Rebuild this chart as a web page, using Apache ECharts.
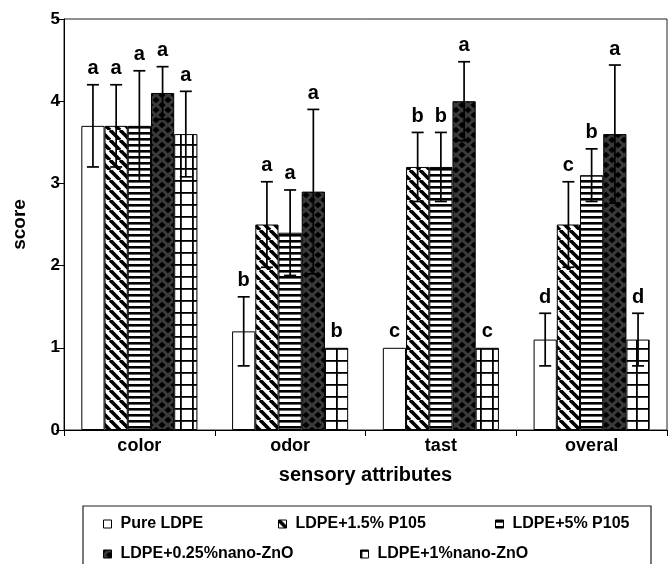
<!DOCTYPE html>
<html>
<head>
<meta charset="utf-8">
<script src="https://cdn.jsdelivr.net/npm/echarts@6/dist/echarts.min.js"></script>
<style>html,body{margin:0;padding:0;background:#fff;}#main{width:672px;height:564px;}</style>
</head>
<body>
<div id="main"></div>
<script>
// ---- data ----
const categories = ['color', 'odor', 'tast', 'overal'];
const seriesNames = ['Pure LDPE', 'LDPE+1.5% P105', 'LDPE+5% P105', 'LDPE+0.25%nano-ZnO', 'LDPE+1%nano-ZnO'];
const pureLDPE   = [3.7, 1.2, 1.0, 1.1];
const p105_15    = [3.7, 2.5, 3.2, 2.5];
const p105_5     = [3.7, 2.4, 3.2, 3.1];
const zno_025    = [4.1, 2.9, 4.0, 3.6];
const zno_1      = [3.6, 1.0, 1.0, 1.1];
const errPure    = [0.5, 0.42, 0, 0.32];
const err15      = [0.5, 0.52, 0.42, 0.52];
const err5       = [0.67, 0.52, 0.42, 0.32];
const err025     = [0.32, 1.0, 0.48, 0.84];
const err1       = [0.52, 0, 0, 0.32];
const lettersPure = ['a', 'b', 'c', 'd'];
const letters15   = ['a', 'a', 'b', 'c'];
const letters5    = ['a', 'a', 'b', 'b'];
const letters025  = ['a', 'a', 'a', 'a'];
const letters1    = ['a', 'b', 'c', 'd'];
const yTicks = [0, 1, 2, 3, 4, 5];

const values = [pureLDPE, p105_15, p105_5, zno_025, zno_1];
const errors = [errPure, err15, err5, err025, err1];
const letters = [lettersPure, letters15, letters5, letters025, letters1];

// ---- patterns ----
function tile(w, h, draw) {
  const c = document.createElement('canvas');
  c.width = w; c.height = h;
  const ctx = c.getContext('2d');
  draw(ctx, w, h);
  return c;
}
const patWhite = '#ffffff';
const patDiag = tile(10, 10, (ctx, w, h) => {
  ctx.fillStyle = '#fff'; ctx.fillRect(0, 0, w, h);
  ctx.strokeStyle = '#000'; ctx.lineWidth = 3.6;
  for (let k = -w; k <= w; k += w) {
    ctx.beginPath(); ctx.moveTo(k, 0); ctx.lineTo(k + w, h); ctx.stroke();
  }
});
const patHoriz = tile(6, 6, (ctx, w, h) => {
  ctx.fillStyle = '#fff'; ctx.fillRect(0, 0, w, h);
  ctx.fillStyle = '#000'; ctx.fillRect(0, 0, w, 2.6);
});
const patDiamond = tile(12, 10, (ctx, w, h) => {
  ctx.fillStyle = '#3a3a3a'; ctx.fillRect(0, 0, w, h);
  ctx.fillStyle = '#000';
  const pts = [[w / 2, h / 2], [0, 0], [w, 0], [0, h], [w, h]];
  pts.forEach(([cx, cy]) => {
    ctx.beginPath();
    ctx.moveTo(cx, cy - 3.2); ctx.lineTo(cx + 3.6, cy); ctx.lineTo(cx, cy + 3.2); ctx.lineTo(cx - 3.6, cy);
    ctx.closePath(); ctx.fill();
  });
});
const patGrid = tile(12, 12, (ctx, w, h) => {
  ctx.fillStyle = '#fff'; ctx.fillRect(0, 0, w, h);
  ctx.fillStyle = '#000';
  ctx.fillRect(0, 0, w, 1.8);
  ctx.fillRect(0, 0, 1.8, h);
});
function pat(c) { return c === patWhite ? c : { image: c, repeat: 'repeat' }; }
const fills = [patWhite, patDiag, patHoriz, patDiamond, patGrid].map(pat);

const FONT = '"Liberation Sans", Arial, sans-serif';
const GAP = 0.23;
const N = 5;

const series = [];
values.forEach((vals, si) => {
  series.push({
    name: seriesNames[si],
    type: 'bar',
    data: vals,
    barGap: '0%',
    barCategoryGap: (GAP * 100) + '%',
    itemStyle: { color: fills[si], borderColor: '#000', borderWidth: 1 },
    emphasis: { disabled: true },
    z: 2
  });
});
values.forEach((vals, si) => {
  series.push({
    type: 'custom',
    name: 'err' + si,
    data: vals.map((v, i) => [i, v, errors[si][i]]),
    encode: { x: 0, y: 1 },
    z: 5,
    silent: true,
    renderItem: function (params, api) {
      const cat = api.value(0), val = api.value(1), err = api.value(2);
      const c = api.coord([cat, val]);
      const bandW = api.size([1, 0])[0];
      const barW = bandW * (1 - GAP) / N;
      const x = c[0] + (si - (N - 1) / 2) * barW;
      const children = [];
      let topY = c[1];
      if (err > 0) {
        const t = api.coord([cat, val + err])[1];
        const b = api.coord([cat, val - err])[1];
        topY = t;
        const st = { stroke: '#000', lineWidth: 1.7 };
        children.push({ type: 'line', shape: { x1: x, y1: t, x2: x, y2: b }, style: st });
        children.push({ type: 'line', shape: { x1: x - 6, y1: t, x2: x + 6, y2: t }, style: st });
        children.push({ type: 'line', shape: { x1: x - 6, y1: b, x2: x + 6, y2: b }, style: st });
      }
      children.push({
        type: 'text',
        style: {
          x: x, y: topY - 6,
          text: letters[si][params.dataIndex],
          align: 'center', verticalAlign: 'bottom',
          font: 'bold 20px ' + FONT,
          fill: '#000'
        }
      });
      return { type: 'group', children: children };
    }
  });
});

// legends, one per item
const legendPos = [
  { left: 103, top: 516 },
  { left: 278, top: 516 },
  { left: 495, top: 516 },
  { left: 103, top: 546 },
  { left: 360, top: 546 }
];
const legends = seriesNames.map((n, i) => ({
  data: [n],
  left: legendPos[i].left,
  top: legendPos[i].top,
  itemWidth: 8,
  itemHeight: 8,
  padding: 0,
  selectedMode: false,
  icon: 'rect',
  itemStyle: { borderColor: '#000', borderWidth: 1 },
  textStyle: { fontFamily: FONT, fontWeight: 'bold', fontSize: 16, color: '#000', padding: [0, 0, 0, 4] }
}));

const chart = echarts.init(document.getElementById('main'), null, { renderer: 'canvas' });
chart.setOption({
  animation: false,
  backgroundColor: '#fff',
  grid: { left: 64, right: 5, top: 19, bottom: 134, show: true, borderColor: '#222', borderWidth: 1, containLabel: false },
  xAxis: {
    type: 'category',
    data: categories,
    name: 'sensory attributes',
    nameLocation: 'middle',
    nameGap: 35,
    nameTextStyle: { fontFamily: FONT, fontWeight: 'bold', fontSize: 20, color: '#000' },
    axisLine: { lineStyle: { color: '#000', width: 1 } },
    axisTick: { show: true, length: 6, lineStyle: { color: '#000' } },
    axisLabel: { fontFamily: FONT, fontWeight: 'bold', fontSize: 18, color: '#000', margin: 7 }
  },
  yAxis: {
    type: 'value',
    min: yTicks[0],
    max: yTicks[yTicks.length - 1],
    interval: 1,
    name: 'score',
    nameLocation: 'middle',
    nameGap: 35,
    nameTextStyle: { fontFamily: FONT, fontWeight: 'bold', fontSize: 19, color: '#000' },
    axisLine: { show: true, lineStyle: { color: '#000', width: 1 } },
    axisTick: { show: true, length: 8, lineStyle: { color: '#000' } },
    axisLabel: { fontFamily: FONT, fontWeight: 'bold', fontSize: 17, color: '#000', margin: 4 },
    splitLine: { show: false }
  },
  legend: legends,
  graphic: [{
    type: 'rect',
    shape: { x: 83, y: 506, width: 568, height: 80 },
    style: { fill: 'none', stroke: '#222', lineWidth: 1.2 },
    silent: true
  }],
  series: series
});
</script>
</body>
</html>
